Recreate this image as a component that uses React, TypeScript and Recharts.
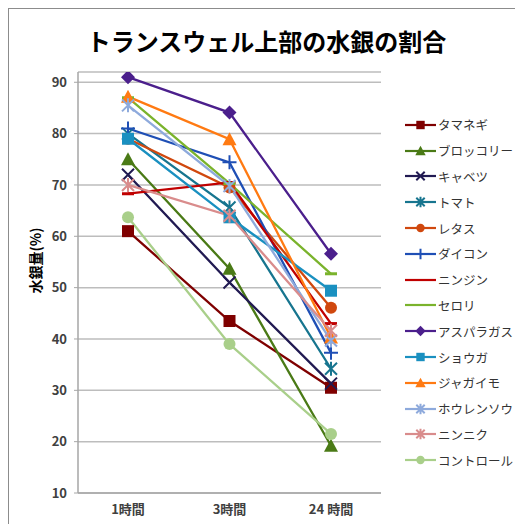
import React from 'react';
import {
  LineChart, Line, XAxis, YAxis, CartesianGrid, Legend
} from 'recharts';

// categories and values
const categories = ['1時間', '3時間', '24 時間'];
const yTicks = [10, 20, 30, 40, 50, 60, 70, 80, 90];

const tamanegi = [61, 43.5, 30.5];
const broccoli = [75, 53.7, 19.2];
const cabbage = [72, 51, 31.3];
const tomato = [80, 65.6, 34.2];
const lettuce = [79, 69.5, 46.1];
const daikon = [81, 74.4, 37.3];
const ninjin = [68.3, 70.5, 43];
const celery = [87, 70.3, 52.7];
const asparagus = [91, 84.1, 56.6];
const ginger = [79, 63.7, 49.4];
const potato = [87.2, 78.9, 40.3];
const spinach = [85.5, 69.8, 39.7];
const garlic = [70, 64, 41.6];
const control = [63.7, 39, 21.5];

const seriesNames = [
  'タマネギ', 'ブロッコリー', 'キャベツ', 'トマト', 'レタス', 'ダイコン', 'ニンジン',
  'セロリ', 'アスパラガス', 'ショウガ', 'ジャガイモ', 'ホウレンソウ', 'ニンニク', 'コントロール'
];
const seriesValues = [
  tamanegi, broccoli, cabbage, tomato, lettuce, daikon, ninjin,
  celery, asparagus, ginger, potato, spinach, garlic, control
];
const seriesColors = [
  '#7f0000', '#4a7a16', '#211a52', '#17758f', '#d0480e', '#1f4fb5', '#c00000',
  '#7ab32c', '#4b1f8c', '#1a90c0', '#ff7a12', '#8eaadc', '#d98c8c', '#a9cf8a'
];
const seriesShapes = [
  'square', 'triangle', 'x', 'star', 'circle', 'plus', 'dash',
  'dash', 'diamond', 'square', 'triangle', 'star', 'star', 'circle'
];

const data = categories.map((c, i) => {
  const row: any = { name: c };
  seriesNames.forEach((n, j) => { row[n] = seriesValues[j][i]; });
  return row;
});

const font = '"Noto Sans CJK JP", "Noto Sans", sans-serif';

function marker(shape: string, color: string, cx: number, cy: number, s = 1) {
  const h = 6 * s;
  switch (shape) {
    case 'square':
      return <rect x={cx - h} y={cy - h} width={2 * h} height={2 * h} fill={color} />;
    case 'triangle':
      return <polygon points={`${cx},${cy - h - 1} ${cx + h + 1},${cy + h} ${cx - h - 1},${cy + h}`} fill={color} />;
    case 'circle':
      return <circle cx={cx} cy={cy} r={h} fill={color} />;
    case 'diamond':
      return <polygon points={`${cx},${cy - h - 1} ${cx + h + 1},${cy} ${cx},${cy + h + 1} ${cx - h - 1},${cy}`} fill={color} />;
    case 'x':
      return <path d={`M${cx - h},${cy - h}L${cx + h},${cy + h}M${cx - h},${cy + h}L${cx + h},${cy - h}`} stroke={color} strokeWidth={2} fill="none" />;
    case 'star':
      return <path d={`M${cx - h},${cy - h}L${cx + h},${cy + h}M${cx - h},${cy + h}L${cx + h},${cy - h}M${cx},${cy - h - 1}L${cx},${cy + h + 1}`} stroke={color} strokeWidth={2} fill="none" />;
    case 'plus':
      return <path d={`M${cx - h - 1},${cy}L${cx + h + 1},${cy}M${cx},${cy - h - 1}L${cx},${cy + h + 1}`} stroke={color} strokeWidth={2} fill="none" />;
    case 'dash':
      return <path d={`M${cx - h},${cy}L${cx + h},${cy}`} stroke={color} strokeWidth={3} fill="none" />;
    default:
      return null;
  }
}

const renderLegend = () => (
  <div style={{ fontFamily: font, fontSize: 12.5, color: '#333' }}>
    {seriesNames.map((n, i) => (
      <div key={n} style={{ display: 'flex', alignItems: 'center', height: 25.8 }}>
        <svg width={31} height={14} style={{ marginRight: 2 }}>
          <line x1={0} y1={7} x2={31} y2={7} stroke={seriesColors[i]} strokeWidth={2.2} />
          {seriesShapes[i] !== 'dash' && marker(seriesShapes[i], seriesColors[i], 15.5, 7, 0.7)}
        </svg>
        <span>{n}</span>
      </div>
    ))}
  </div>
);

const yLabel = (props: any) => {
  const vb = props.viewBox;
  const x = 26;
  const y = vb.y + vb.height / 2 - 22;
  return (
    <text
      x={x} y={y} transform={`rotate(-90 ${x} ${y})`}
      textAnchor="middle" dominantBaseline="central"
      style={{ fontSize: 14, fontWeight: 700, fill: '#000', fontFamily: font }}
    >
      水銀量(%)
    </text>
  );
};

export default function App() {
  return (
    <div style={{
      position: 'relative', width: 515, height: 516, boxSizing: 'border-box',
      borderLeft: '1px solid #8c8c8c', borderTop: '1px solid #8c8c8c', background: '#fff'
    }}>
      <div style={{
        position: 'absolute', top: 14, left: 0, width: 515, textAlign: 'center',
        fontFamily: font, fontWeight: 700, fontSize: 24, color: '#000', zIndex: 2
      }}>
        トランスウェル上部の水銀の割合
      </div>
      <LineChart
        width={514}
        height={515}
        data={data}
        margin={{ top: 63, right: 142, bottom: 0, left: 0 }}
        style={{ position: 'absolute', top: 0, left: 0 }}
      >
        <CartesianGrid vertical={false} stroke="#bdbdbd" strokeWidth={1.5} />
        <XAxis
          dataKey="name"
          height={31}
          interval={0}
          padding={{ left: 50, right: 50 }}
          axisLine={{ stroke: '#a6a6a6', strokeWidth: 1.5 }}
          tickLine={false}
          tick={{ fontSize: 13, fontWeight: 700, fill: '#404040', fontFamily: font }}
          tickMargin={6}
        />
        <YAxis
          width={69}
          domain={[10, 92]}
          ticks={yTicks}
          allowDataOverflow
          axisLine={{ stroke: '#a6a6a6', strokeWidth: 1.5 }}
          tickLine={{ stroke: '#a6a6a6' }}
          tickSize={4}
          tickMargin={7}
          tick={{ fontSize: 13, fontWeight: 700, fill: '#404040', fontFamily: font }}
          label={yLabel}
        />
        <Legend
          content={renderLegend}
          layout="vertical"
          align="center"
          verticalAlign="middle"
          wrapperStyle={{ top: 103, left: 396, width: 120 }}
        />
        {seriesNames.map((n, i) => (
          <Line
            key={n}
            type="linear"
            dataKey={n}
            stroke={seriesColors[i]}
            strokeWidth={2.3}
            isAnimationActive={false}
            dot={(p: any) => (
              <g key={`${n}-${p.index}`}>
                {marker(seriesShapes[i], seriesColors[i], p.cx, p.cy)}
              </g>
            )}
            activeDot={false}
          />
        ))}
      </LineChart>
    </div>
  );
}
